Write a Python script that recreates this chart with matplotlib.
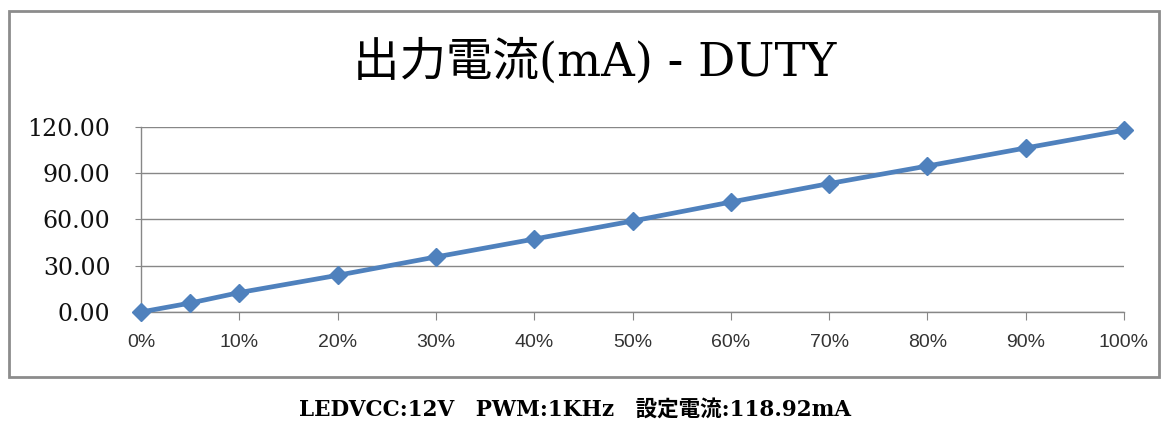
import matplotlib
matplotlib.use("Agg")
import matplotlib.pyplot as plt
from matplotlib.patches import Rectangle

duty = [0, 5, 10, 20, 30, 40, 50, 60, 70, 80, 90, 100]
current = [0.0, 5.8, 12.6, 23.8, 35.7, 47.3, 59.0, 71.3, 83.3, 94.7, 106.4, 117.9]
y_ticks = [0, 30, 60, 90, 120]
x_ticks = [0, 10, 20, 30, 40, 50, 60, 70, 80, 90, 100]

title = "出力電流(mA) - DUTY"
footer = "LEDVCC:12V\u3000PWM:1KHz\u3000設定電流:118.92mA"

serif_jp = ["DejaVu Serif", "Noto Sans CJK JP"]
grid_col = "#878787"

W, H = 1163, 423
fig = plt.figure(figsize=(W / 100, H / 100), dpi=100)

# chart frame
fig.patches.append(Rectangle((9 / W, 1 - 377 / H), (1159 - 9) / W, (377 - 11) / H,
                             transform=fig.transFigure, fill=False,
                             edgecolor="#8c8c8c", linewidth=2))

ax = fig.add_axes([141 / W, 1 - 312 / H, (1124 - 141) / W, (312 - 127) / H])
ax.plot(duty, current, color="#4F81BD", linewidth=3.4, marker="D",
        markersize=9.5, clip_on=False, zorder=3)

ax.set_xlim(0, 100)
ax.set_ylim(0, 120)
ax.set_yticks(y_ticks)
ax.set_yticklabels([f"{v:.2f}" for v in y_ticks], family=serif_jp, fontsize=17,
                   color="#111111")
ax.set_xticks(x_ticks)
ax.set_xticklabels([f"{v}%" for v in x_ticks], family="Liberation Sans",
                   fontsize=14, color="#333333")
ax.grid(axis="y", color=grid_col, linewidth=1)
ax.set_axisbelow(True)
for s in ["top", "right"]:
    ax.spines[s].set_visible(False)
for s in ["left", "bottom"]:
    ax.spines[s].set_color(grid_col)
    ax.spines[s].set_linewidth(1)
ax.tick_params(axis="y", length=4, color=grid_col, pad=18)
ax.tick_params(axis="x", length=5.8, color=grid_col, pad=10)

fig.text(595 / W, 1 - 76 / H, title, ha="center", va="baseline",
         family=serif_jp, fontsize=33.5)
fig.text(575 / W, 1 - 410 / H, footer, ha="center", va="center",
         family=serif_jp, fontsize=15.5, fontweight="bold")

fig.savefig("out.png", dpi=100)
